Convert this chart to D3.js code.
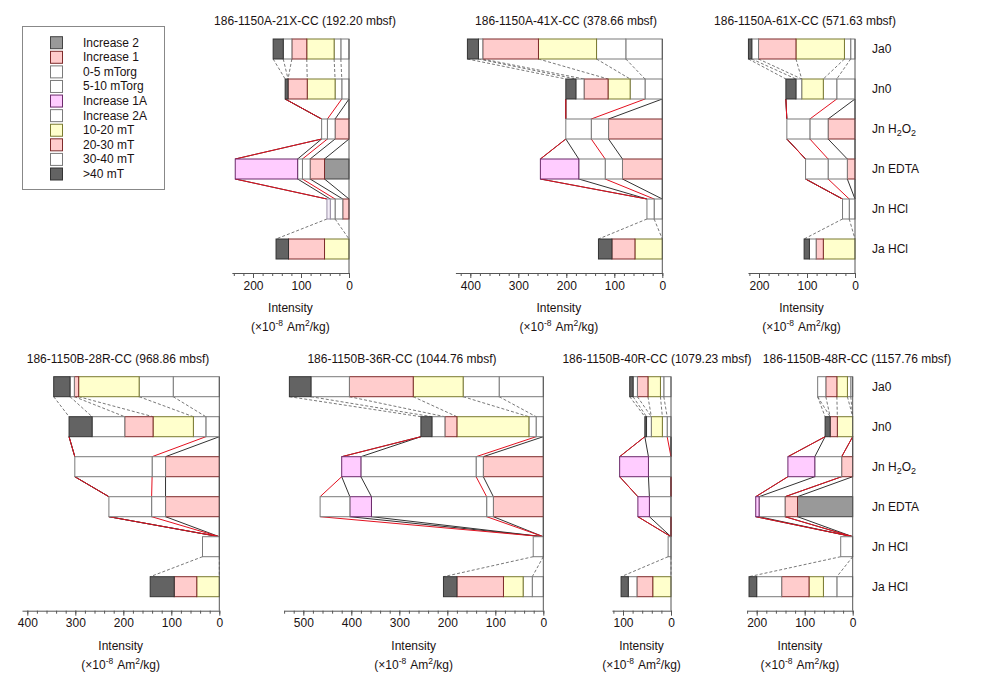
<!DOCTYPE html>
<html>
<head>
<meta charset="utf-8">
<script src="https://cdn.jsdelivr.net/npm/d3@7"></script>
<style>
  body { margin: 0; background: #fff; }
  text { font-family: "Liberation Sans", Arial, sans-serif; fill: #1a1111; }
</style>
</head>
<body>
<div id="chart"></div>
<script>
// sample titles, one per panel
const samples = [
  '186-1150A-21X-CC (192.20 mbsf)',
  '186-1150A-41X-CC (378.66 mbsf)',
  '186-1150A-61X-CC (571.63 mbsf)',
  '186-1150B-28R-CC (968.86 mbsf)',
  '186-1150B-36R-CC (1044.76 mbsf)',
  '186-1150B-40R-CC (1079.23 mbsf)',
  '186-1150B-48R-CC (1157.76 mbsf)',
];
const rowNames = ['Ja0', 'Jn0', 'Jn H2O2', 'Jn EDTA', 'Jn HCl', 'Ja HCl'];
const afSteps = ['0-5 mT', '5-10 mT', '10-20 mT', '20-30 mT', '30-40 mT', '>40 mT'];
const chemSteps = ['Increase 2', 'Increase 1', '0-5 mTorg', '5-10 mTorg', 'Increase 1A', 'Increase 2A', 'residual'];
const axisMax = [244, 431, 223, 411, 540, 123, 220];

// AF rows: [0-5, 5-10, 10-20, 20-30, 30-40, >40] (x10^-8 Am2/kg)
const ja0 = [
  [17, 14, 57, 31, 18, 21],
  [76, 61, 121, 116, 9, 23],
  [9, 13, 101, 78, 14, 7],
  [96, 71, 126, 9, 9, 34],
  [92, 75, 104, 133, 80, 45],
  [15, 7, 26, 22, 9, 7],
  [4, 7, 22, 23, 17, 0],
];
const jn0 = [
  [15, 14, 58, 40, 0, 6],
  [36, 31, 46, 50, 17, 21],
  [38, 28, 45, 0, 12, 21],
  [28, 26, 84, 59, 68, 48],
  [15, 15, 150, 25, 27, 23],
  [8, 10, 23, 0, 10, 3.5],
  [0, 0, 32, 15, 0, 10.5],
];
const jaHCl = [
  [0, 0, 51, 75, 0, 26],
  [0, 0, 57, 48, 0, 28],
  [0, 0, 66, 15, 14, 11],
  [0, 0, 47, 47, 0, 50],
  [23, 19, 41, 97, 0, 28],
  [0, 0, 38, 33, 18, 15],
  [33, 28, 30, 57, 52, 16],
];
// chemical rows: [Inc 2, Inc 1, 0-5 org, 5-10 org, Inc 1A, Inc 2A, residual]
const jnH2O2 = [
  [0, 29, 16, 12, 0, 0, 0],
  [0, 112, 36, 53, 0, 0, 0],
  [0, 56, 38, 48, 0, 0, 0],
  [0, 112, 28, 161, 0, 0, 0],
  [0, 125, 15, 240, 40, 0, 0],
  [0, 0, 0, 47, 60, 0, 0],
  [0, 23, 0, 56, 56, 0, 0],
];
const jnEDTA = [
  [51, 30, 16, 10, 130, 0, 0],
  [0, 83, 36, 55, 80, 0, 0],
  [0, 16, 40, 47, 0, 0, 0],
  [0, 112, 29, 89, 0, 0, 0],
  [0, 104, 14, 240, 45, 62, 0],
  [0, 0, 0, 45, 24, 0, 0],
  [115, 26, 0, 54, 7, 0, 0],
];
const jnHCl = [
  [0, 13, 16, 10, 7, 0, 0],
  [0, 0, 17, 15, 0, 0, 0],
  [0, 0, 12, 14, 0, 0, 0],
  [0, 0, 0, 0, 0, 0, 35],
  [0, 0, 0, 0, 0, 0, 21],
  [0, 0, 0, 0, 0, 0, 6],
  [0, 0, 0, 0, 0, 0, 25],
];

const legendNames = ['Increase 2', 'Increase 1', '0-5 mTorg', '5-10 mTorg', 'Increase 1A',
  'Increase 2A', '10-20 mT', '20-30 mT', '30-40 mT', '>40 mT'];

// layout
const W = 996, H = 692;
const pxPerUnit = 0.48;
const zeroX = [349, 662.3, 855, 219.3, 543.3, 671, 852.7];
const firstRowY = [49, 49, 49, 386.7, 386.7, 386.7, 386.7];
const titleX = [305, 566, 805, 118, 402, 657, 857];
const rowStep = 40, barH = 20;

const fills = {
  white: '#ffffff', yellow: '#ffffcc', pink: '#ffcccc', dark: '#636363', grey: '#999999', mag: '#ffccff',
  pale: '#f4eef8',
};
const strokes = {
  white: '#7a7a7a', yellow: '#7a7a30', pink: '#7d2b2b', dark: '#333', grey: '#444', mag: '#6b2a6b',
  pale: '#9a90a8',
};
const afKind = ['white', 'white', 'yellow', 'pink', 'white', 'dark'];
const chemKind = ['grey', 'pink', 'white', 'white', 'mag', 'white', 'white'];
const legendKind = ['grey', 'pink', 'white', 'white', 'mag', 'white', 'yellow', 'pink', 'white', 'dark'];
const lineRed = '#e3101f', lineBlack = '#333';

const svg = d3.select('#chart').append('svg')
  .attr('width', W).attr('height', H)
  .attr('viewBox', `0 0 ${W} ${H}`);

const addSubLabel = (sel, label) => {
  // "Jn H2O2" with subscripts
  if (label.includes('H2O2')) {
    sel.append('tspan').text('Jn H');
    sel.append('tspan').attr('dy', 3).attr('font-size', 9).text('2');
    sel.append('tspan').attr('dy', -3).text('O');
    sel.append('tspan').attr('dy', 3).attr('font-size', 9).text('2');
  } else {
    sel.text(label);
  }
};

const segs = (values) => {
  let acc = 0;
  return values.map((v, i) => {
    const s = { start: acc, end: acc + v, i };
    acc += v;
    return s;
  });
};

const chemBounds = (v) => Array.from(d3.cumsum(v.slice(0, 6)));
const afBoundsAsChem = (v) => {
  const t = d3.sum(v);
  return [0, 0, v[0], t, t, t];
};
const boundColor = [lineBlack, lineBlack, lineRed, lineBlack, lineBlack, lineRed];

samples.forEach((title, p) => {
  const x = d3.scaleLinear()
    .domain([0, axisMax[p]])
    .range([zeroX[p], zeroX[p] - axisMax[p] * pxPerUnit]);
  const y = d3.scalePoint()
    .domain(rowNames)
    .range([firstRowY[p], firstRowY[p] + rowStep * 5]);

  const g = svg.append('g');
  const rows = [
    { name: 'Ja0', values: ja0[p], kind: afKind },
    { name: 'Jn0', values: jn0[p], kind: afKind },
    { name: 'Jn H2O2', values: jnH2O2[p], kind: chemKind },
    { name: 'Jn EDTA', values: jnEDTA[p], kind: chemKind },
    { name: 'Jn HCl', values: jnHCl[p], kind: chemKind.map((k, i) => (i === 4 ? 'pale' : k)) },
    { name: 'Ja HCl', values: jaHCl[p], kind: afKind },
  ];

  // dashed links Ja0 -> Jn0
  const lower = (name) => y(name) + barH / 2;
  const upper = (name) => y(name) - barH / 2;
  const dashed = g.append('g')
    .attr('stroke', '#555').attr('stroke-width', 0.8)
    .attr('stroke-dasharray', '3,2').attr('fill', 'none');
  const cA = Array.from(d3.cumsum(ja0[p]));
  const cB = Array.from(d3.cumsum(jn0[p]));
  cA.forEach((v, i) => {
    dashed.append('line')
      .attr('x1', x(v)).attr('y1', lower('Ja0'))
      .attr('x2', x(cB[i])).attr('y2', upper('Jn0'));
  });
  // dashed links Jn HCl -> Ja HCl
  const hclB = chemBounds(jnHCl[p]);
  const jaH = Array.from(d3.cumsum(jaHCl[p]));
  [[hclB[2], jaH[0]], [d3.sum(jnHCl[p]), jaH[5]]].forEach(([a, b]) => {
    dashed.append('line')
      .attr('x1', x(a)).attr('y1', lower('Jn HCl'))
      .attr('x2', x(b)).attr('y2', upper('Ja HCl'));
  });

  // solid links between treatment rows
  const pairs = [
    ['Jn0', afBoundsAsChem(jn0[p]), 'Jn H2O2', chemBounds(jnH2O2[p])],
    ['Jn H2O2', chemBounds(jnH2O2[p]), 'Jn EDTA', chemBounds(jnEDTA[p])],
    ['Jn EDTA', chemBounds(jnEDTA[p]), 'Jn HCl', chemBounds(jnHCl[p])],
  ];
  [lineBlack, lineRed].forEach((col) => {
    pairs.forEach(([n1, b1, n2, b2]) => {
      b1.forEach((v, i) => {
        if (boundColor[i] !== col) return;
        g.append('line')
          .attr('x1', x(v)).attr('y1', lower(n1))
          .attr('x2', x(b2[i])).attr('y2', upper(n2))
          .attr('stroke', col).attr('stroke-width', 1);
      });
    });
  });

  // bars
  rows.forEach((row) => {
    const rg = g.append('g');
    rg.selectAll('rect')
      .data(segs(row.values).filter((s) => s.end > s.start))
      .enter()
      .append('rect')
      .attr('x', (d) => x(d.end))
      .attr('y', y(row.name) - barH / 2)
      .attr('width', (d) => x(d.start) - x(d.end))
      .attr('height', barH)
      .attr('fill', (d) => fills[row.kind[d.i]])
      .attr('stroke', (d) => strokes[row.kind[d.i]])
      .attr('stroke-width', 1);
  });

  // axis
  const axisY = y('Ja HCl') + barH / 2 + 14;
  const ticksAll = d3.range(0, axisMax[p] + 0.01, 20);
  g.append('g')
    .attr('transform', `translate(0,${axisY})`)
    .call(d3.axisBottom(x).tickValues(ticksAll).tickSize(3).tickSizeOuter(0).tickFormat(''))
    .call((a) => a.selectAll('line,path').attr('stroke', '#555'));
  g.append('g')
    .attr('transform', `translate(0,${axisY})`)
    .call(d3.axisBottom(x).tickValues(ticksAll.filter((t) => t % 100 === 0)).tickSize(5).tickSizeOuter(0))
    .call((a) => a.select('.domain').remove())
    .call((a) => a.selectAll('line').attr('stroke', '#555'))
    .call((a) => a.selectAll('text').attr('font-size', 12)
      .attr('font-family', '"Liberation Sans", Arial, sans-serif').attr('fill', '#1a1111'));

  // zero line
  g.append('line')
    .attr('x1', x(0)).attr('x2', x(0))
    .attr('y1', upper('Ja0')).attr('y2', axisY)
    .attr('stroke', '#555').attr('stroke-width', 1);

  const midX = (x(0) + x(axisMax[p])) / 2;
  g.append('text')
    .attr('x', midX).attr('y', axisY + 39)
    .attr('text-anchor', 'middle').attr('font-size', 12)
    .text('Intensity');
  const unit = g.append('text')
    .attr('x', midX).attr('y', axisY + 58)
    .attr('text-anchor', 'middle').attr('font-size', 12);
  unit.append('tspan').text('(\u00d710');
  unit.append('tspan').attr('dy', -5).attr('font-size', 8.5).text('-8');
  unit.append('tspan').attr('dy', 5).attr('dx', 4).text('Am');
  unit.append('tspan').attr('dy', -5).attr('font-size', 8.5).text('2');
  unit.append('tspan').attr('dy', 5).text('/kg)');

  // title
  g.append('text')
    .attr('x', titleX[p]).attr('y', firstRowY[p] - 24)
    .attr('text-anchor', 'middle').attr('font-size', 12)
    .text(title);

  // row labels on the right-most panel of each line
  if (p === 2 || p === 6) {
    rowNames.forEach((name) => {
      const t = g.append('text')
        .attr('x', 872).attr('y', y(name) + 4)
        .attr('font-size', 12);
      addSubLabel(t, name);
    });
  }
});

// legend
const leg = svg.append('g');
leg.append('rect')
  .attr('x', 22.5).attr('y', 26.5).attr('width', 142).attr('height', 163)
  .attr('fill', 'none').attr('stroke', '#888');
const ly = d3.scalePoint().domain(legendNames).range([42.7, 174]);
legendNames.forEach((name, i) => {
  leg.append('rect')
    .attr('x', 50.5).attr('y', ly(name) - 6).attr('width', 12).attr('height', 12)
    .attr('fill', fills[legendKind[i]]).attr('stroke', strokes[legendKind[i]]);
  leg.append('text')
    .attr('x', 83).attr('y', ly(name) + 4)
    .attr('font-size', 12)
    .text(name);
});
</script>
</body>
</html>
